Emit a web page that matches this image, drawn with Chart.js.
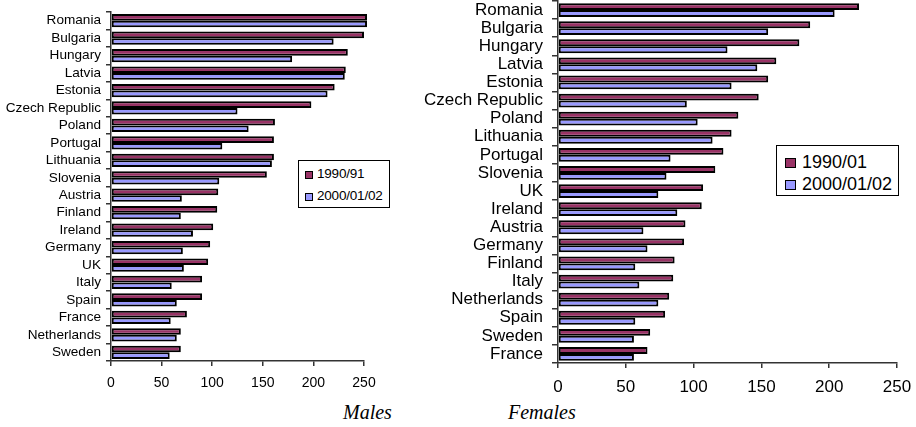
<!DOCTYPE html>
<html>
<head>
<meta charset="utf-8">
<script src="https://cdn.jsdelivr.net/npm/chart.js@4"></script>
<style>
  html, body { margin: 0; padding: 0; background: #fff; }
  body { width: 916px; height: 427px; position: relative; overflow: hidden; }
  .wrap { position: absolute; }
  .legend { position: absolute; border: 1px solid #000; background: #fff; box-sizing: border-box; }
  .legend .item { position: absolute; white-space: nowrap; color: #000; }
  .legend .sw { position: absolute; border: 1.5px solid #000; box-sizing: border-box; }
  .cap { position: absolute; font-family: "Liberation Serif", "Times New Roman", serif; font-style: italic; font-size: 20px; color: #000; }
</style>
</head>
<body>
<div class="wrap" id="wl" style="left:0;top:0;width:420px;height:400px;"><canvas id="cl"></canvas></div>
<div class="wrap" id="wr" style="left:421px;top:0;width:495px;height:400px;"><canvas id="cr"></canvas></div>

<div class="legend" style="left:298px;top:160px;width:92px;height:48px;font-family:'Liberation Sans',Arial,sans-serif;font-size:13.5px;letter-spacing:-0.2px;">
  <div class="sw" style="left:6px;top:10px;width:8px;height:8px;background:#993366;"></div>
  <div class="item" style="left:18px;top:5px;">1990/91</div>
  <div class="sw" style="left:6px;top:32px;width:8px;height:8px;background:#9999FF;"></div>
  <div class="item" style="left:18px;top:27px;">2000/01/02</div>
</div>

<div class="legend" style="left:776px;top:145px;width:123px;height:51px;font-family:'Liberation Sans',Arial,sans-serif;font-size:18px;">
  <div class="sw" style="left:8px;top:12px;width:11px;height:10px;background:#993366;"></div>
  <div class="item" style="left:25px;top:6px;">1990/01</div>
  <div class="sw" style="left:8px;top:34px;width:11px;height:10px;background:#9999FF;"></div>
  <div class="item" style="left:25px;top:28px;">2000/01/02</div>
</div>

<div class="cap" style="left:343px;top:401px;">Males</div>
<div class="cap" style="left:508px;top:401px;">Females</div>

<script>
// ---- Males ----
const maleCountries = ["Romania","Bulgaria","Hungary","Latvia","Estonia","Czech Republic","Poland","Portugal","Lithuania","Slovenia","Austria","Finland","Ireland","Germany","UK","Italy","Spain","France","Netherlands","Sweden"];
const male1990 = [253,250,234,232,221,198,162,161,161,154,106,105,101,98,96,90,90,75,69,69];
const male2000 = [253,220,179,231,214,125,136,110,159,107,70,69,81,71,72,60,65,59,65,58];
const maleLabel1990 = "1990/91";

// ---- Females ----
const femaleCountries = ["Romania","Bulgaria","Hungary","Latvia","Estonia","Czech Republic","Poland","Lithuania","Portugal","Slovenia","UK","Ireland","Austria","Germany","Finland","Italy","Netherlands","Spain","Sweden","France"];
const female1990 = [222,186,178,161,155,148,133,128,122,116,107,106,94,93,86,85,82,79,68,66];
const female2000 = [204,155,125,147,128,95,103,114,83,80,74,88,63,66,57,60,74,57,56,56];
const femaleLabel1990 = "1990/01";

const label2000 = "2000/01/02";
const xTicks = [0, 50, 100, 150, 200, 250];

const C1990 = "#993366";
const C2000 = "#9999FF";

function makeChart(canvasId, cats, d1, d2, l1, opts) {
  const ctx = document.getElementById(canvasId);
  return new Chart(ctx, {
    type: 'bar',
    data: {
      labels: cats,
      datasets: [
        { label: l1, data: d1, backgroundColor: C1990, borderColor: "#000", borderWidth: 2, borderSkipped: false,
          categoryPercentage: opts.catPct, barPercentage: 1.0, clip: false },
        { label: label2000, data: d2, backgroundColor: C2000, borderColor: "#000", borderWidth: 2, borderSkipped: false,
          categoryPercentage: opts.catPct, barPercentage: 1.0, clip: false }
      ]
    },
    options: {
      indexAxis: 'y',
      responsive: true,
      maintainAspectRatio: false,
      animation: false,
      layout: { padding: opts.padding },
      plugins: { legend: { display: false }, tooltip: { enabled: false } },
      scales: {
        x: {
          type: 'linear', min: 0, max: 250,
          afterBuildTicks: (s) => { s.ticks = xTicks.map(v => ({ value: v })); },
          border: { display: true, color: '#333', width: 1.5 },
          grid: { drawOnChartArea: false, drawTicks: true, tickLength: 5, color: '#333', lineWidth: 1.5 },
          ticks: { color: '#000', padding: opts.xPad, font: opts.tickFont, maxRotation: 0 },
          afterFit: (s) => { s.height = opts.xHeight; s.paddingLeft = 0; s.paddingRight = 0; }
        },
        y: {
          type: 'category',
          border: { display: true, color: '#333', width: 1.5 },
          grid: { offset: true, drawOnChartArea: false, drawTicks: true, tickLength: opts.yTick, color: '#333', lineWidth: 1.5 },
          ticks: { color: '#000', padding: opts.yPad, font: opts.labelFont, autoSkip: false },
          afterFit: (s) => { s.width = opts.yWidth; s.paddingTop = 0; s.paddingBottom = 0; }
        }
      }
    }
  });
}

makeChart('cl', maleCountries, male1990, male2000, maleLabel1990, {
  catPct: 0.76,
  padding: { top: 12, left: 0, right: 56, bottom: 0 },
  xHeight: 39, yWidth: 111, yTick: 5, yPad: 5, xPad: 9,
  tickFont: { family: "'Liberation Sans', Arial, sans-serif", size: 14 },
  labelFont: { family: "'Liberation Sans', Arial, sans-serif", size: 13.6 }
});

makeChart('cr', femaleCountries, female1990, female2000, femaleLabel1990, {
  catPct: 0.76,
  padding: { top: 1, left: 0, right: 19, bottom: 0 },
  xHeight: 37, yWidth: 137, yTick: 6, yPad: 9, xPad: 9,
  tickFont: { family: "'Liberation Sans', Arial, sans-serif", size: 17 },
  labelFont: { family: "'Liberation Sans', Arial, sans-serif", size: 17 }
});
</script>
</body>
</html>
